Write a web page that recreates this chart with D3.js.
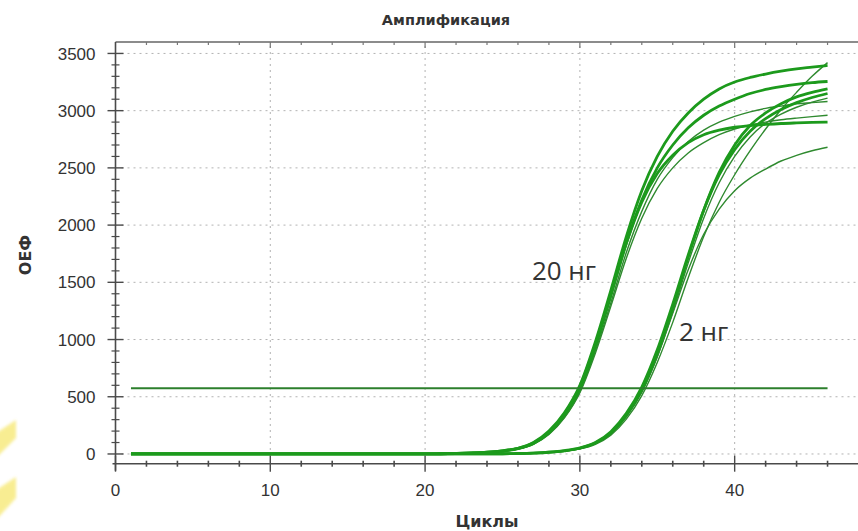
<!DOCTYPE html>
<html>
<head>
<meta charset="utf-8">
<script src="https://cdn.jsdelivr.net/npm/d3@7"></script>
<style>
  html, body { margin: 0; padding: 0; background: #fff; }
  svg { display: block; }
</style>
</head>
<body>
<svg id="chart" width="858" height="531"></svg>
<script>
// Amplification curves (relative fluorescence units vs. PCR cycle)
const cycles = [1,2,3,4,5,6,7,8,9,10,11,12,13,14,15,16,17,18,19,20,21,22,23,24,25,26,27,28,29,30,31,32,33,34,35,36,37,38,39,40,41,42,43,44,45,46];

// 20 ng template
const ng20_a = [0,0,0,0,0,0,0,0,0,0,0,0,0,0,0,0,0,0,0,0, 2,5,9,16,28,50,100,200,360,600, 980,1430,1900,2300,2600,2820,2980,3100,3190,3250, 3290,3320,3345,3365,3380,3395];
const ng20_b = [0,0,0,0,0,0,0,0,0,0,0,0,0,0,0,0,0,0,0,0, 2,4,8,14,25,46,92,185,340,570, 940,1380,1840,2220,2500,2700,2850,2960,3040,3100, 3150,3185,3210,3230,3245,3255];
const ng20_c = [0,0,0,0,0,0,0,0,0,0,0,0,0,0,0,0,0,0,0,0, 2,4,7,13,24,44,88,175,320,545, 900,1320,1760,2120,2400,2590,2730,2830,2900,2950, 2990,3020,3040,3060,3070,3080];
const ng20_d = [0,0,0,0,0,0,0,0,0,0,0,0,0,0,0,0,0,0,0,0, 2,4,7,13,23,42,85,170,315,535, 880,1290,1710,2060,2320,2500,2630,2720,2790,2840, 2875,2900,2920,2935,2948,2960];
const ng20_e = [0,0,0,0,0,0,0,0,0,0,0,0,0,0,0,0,0,0,0,0, 2,5,9,15,27,48,95,190,350,590, 960,1400,1840,2200,2450,2610,2720,2790,2830,2855, 2870,2880,2888,2893,2897,2900];

// 2 ng template
const ng2_a = [0,0,0,0,0,0,0,0,0,0,0,0,0,0,0,0,0,0,0,0,0,0,0,0, 2,4,8,15,28,50, 95,185,340,560,880,1280,1720,2130,2460,2700, 2870,2980,3060,3120,3160,3190];
const ng2_b = [0,0,0,0,0,0,0,0,0,0,0,0,0,0,0,0,0,0,0,0,0,0,0,0, 2,4,8,16,30,54, 100,195,355,585,910,1310,1740,2130,2440,2660, 2820,2930,3010,3070,3115,3150];
const ng2_c = [0,0,0,0,0,0,0,0,0,0,0,0,0,0,0,0,0,0,0,0,0,0,0,0, 2,3,7,14,26,47, 90,175,325,540,850,1240,1670,2060,2370,2600, 2770,2890,2970,3030,3075,3110];
const ng2_d = [0,0,0,0,0,0,0,0,0,0,0,0,0,0,0,0,0,0,0,0,0,0,0,0, 1,3,6,12,24,44, 85,165,305,510,800,1150,1540,1900,2200,2440, 2650,2840,3010,3160,3300,3420];
const ng2_e = [0,0,0,0,0,0,0,0,0,0,0,0,0,0,0,0,0,0,0,0,0,0,0,0, 2,4,8,15,28,50, 93,180,330,545,850,1230,1610,1920,2140,2300, 2410,2490,2560,2610,2650,2680];

const threshold = 575;

const yMajor = [0,500,1000,1500,2000,2500,3000,3500];
const yTickLabels = ["0","500","1000","1500","2000","2500","3000","3500"];
const xMajor = [0,10,20,30,40];
const xTickLabels = ["0","10","20","30","40"];
const xGrid = [10,20,30,40];

const title = "Амплификация";
const xTitle = "Циклы";
const yTitle = "ОЕФ";
const groupLabels = [
  { text: "20 нг", cycle: 26.9, value: 1520 },
  { text: "2 нг", cycle: 36.4, value: 985 }
];

// series list for drawing: thick traces are the heavier well lines
const series = [
  { values: ng20_a, thick: true },
  { values: ng20_b, thick: true },
  { values: ng20_c, thick: false },
  { values: ng20_d, thick: false },
  { values: ng20_e, thick: true },
  { values: ng2_a, thick: true },
  { values: ng2_b, thick: true },
  { values: ng2_c, thick: false },
  { values: ng2_d, thick: false },
  { values: ng2_e, thick: false }
];

const svg = d3.select("#chart");
const W = 858, H = 531;
const plotLeft = 115.5, plotRight = 858.5, plotTop = 42, plotBottom = 463.7;

const x = d3.scaleLinear().domain([0, 48]).range([plotLeft, plotRight]);
const y = d3.scaleLinear().domain([-85, 3600]).range([plotBottom, plotTop]);

// soft corner decoration
const defs = svg.append("defs");
defs.append("filter").attr("id", "soft").append("feGaussianBlur").attr("stdDeviation", 1.5);
const deco = svg.append("g").attr("opacity", 0.6).attr("filter", "url(#soft)");
deco.append("polygon").attr("points", "-4,433 16,420 16,438 -4,458").attr("fill", "#f4e24c");
deco.append("polygon").attr("points", "-4,490 16,477 16,498 -4,520").attr("fill", "#f4e24c");

// grid
const grid = svg.append("g").attr("stroke", "#b2b2b2").attr("stroke-width", 1).attr("stroke-dasharray", "2,4");
grid.selectAll("line.h").data(yMajor).join("line")
  .attr("x1", x(0) + 6).attr("x2", W)
  .attr("y1", d => y(d)).attr("y2", d => y(d));
grid.selectAll("line.v").data(xGrid).join("line")
  .attr("x1", d => x(d)).attr("x2", d => x(d))
  .attr("y1", plotTop + 4).attr("y2", plotBottom);

// amplification traces
const line = d3.line()
  .x((d, i) => x(cycles[i]))
  .y(d => y(d))
  .curve(d3.curveMonotoneX);

const traces = svg.append("g").attr("fill", "none").attr("stroke-linejoin", "round");
traces.selectAll("path.thin").data(series.filter(s => !s.thick)).join("path")
  .attr("d", s => line(s.values))
  .attr("stroke", "#2f8a2f")
  .attr("stroke-width", 1.4);
traces.selectAll("path.thick").data(series.filter(s => s.thick)).join("path")
  .attr("d", s => line(s.values))
  .attr("stroke", "#1c9a1c")
  .attr("stroke-width", 2.8);

// threshold
svg.append("line")
  .attr("x1", x(cycles[0])).attr("x2", x(cycles[cycles.length - 1]))
  .attr("y1", y(threshold)).attr("y2", y(threshold))
  .attr("stroke", "#2c7f2c").attr("stroke-width", 2);

// axes
const axisColor = "#4a4a4a";
const ax = svg.append("g").attr("stroke", axisColor);
// top frame
ax.append("line").attr("x1", plotLeft).attr("x2", W).attr("y1", plotTop).attr("y2", plotTop).attr("stroke-width", 1.6).attr("stroke", "#666");
ax.selectAll("line.tt").data(d3.range(2, 48, 2)).join("line")
  .attr("x1", d => x(d)).attr("x2", d => x(d))
  .attr("y1", plotTop).attr("y2", d => plotTop + (d % 10 === 0 ? 6 : 3))
  .attr("stroke-width", 1.2).attr("stroke", "#777");
// y axis
ax.append("line").attr("x1", plotLeft).attr("x2", plotLeft).attr("y1", plotTop).attr("y2", plotBottom + 7).attr("stroke-width", 1.6);
ax.selectAll("line.ymin").data(d3.range(0, 3600, 100).filter(v => v % 500 !== 0)).join("line")
  .attr("x1", plotLeft - 4).attr("x2", plotLeft + 4)
  .attr("y1", d => y(d)).attr("y2", d => y(d)).attr("stroke-width", 1.2);
ax.selectAll("line.ymaj").data(yMajor).join("line")
  .attr("x1", plotLeft - 8).attr("x2", plotLeft + 8)
  .attr("y1", d => y(d)).attr("y2", d => y(d)).attr("stroke-width", 1.4);
// x axis
ax.append("line").attr("x1", plotLeft - 3).attr("x2", W).attr("y1", plotBottom).attr("y2", plotBottom).attr("stroke-width", 1.6);
ax.selectAll("line.xmin").data(d3.range(2, 48, 2).filter(v => v % 10 !== 0)).join("line")
  .attr("x1", d => x(d)).attr("x2", d => x(d))
  .attr("y1", plotBottom - 3).attr("y2", plotBottom + 3).attr("stroke-width", 1.6);
ax.selectAll("line.xmaj").data(xMajor).join("line")
  .attr("x1", d => x(d)).attr("x2", d => x(d))
  .attr("y1", plotBottom - 8).attr("y2", plotBottom + 8).attr("stroke-width", 1.4);

// tick labels
const tickFont = "'Liberation Sans', Arial, sans-serif";
svg.append("g").selectAll("text").data(yMajor).join("text")
  .attr("x", plotLeft - 20).attr("y", d => y(d))
  .attr("dy", "0.36em").attr("text-anchor", "end")
  .attr("font-family", tickFont).attr("font-size", 17).attr("fill", "#333")
  .text((d, i) => yTickLabels[i]);
svg.append("g").selectAll("text").data(xMajor).join("text")
  .attr("x", d => x(d)).attr("y", plotBottom + 32)
  .attr("text-anchor", "middle")
  .attr("font-family", tickFont).attr("font-size", 17).attr("fill", "#333")
  .text((d, i) => xTickLabels[i]);

// titles
svg.append("text").attr("x", 446).attr("y", 25).attr("text-anchor", "middle")
  .attr("font-family", "'DejaVu Sans', sans-serif").attr("font-weight", "bold").attr("font-size", 14.5)
  .attr("fill", "#333").text(title);
svg.append("text").attr("x", (plotLeft + plotRight) / 2).attr("y", 527).attr("text-anchor", "middle")
  .attr("font-family", "'DejaVu Sans', sans-serif").attr("font-weight", "bold").attr("font-size", 16)
  .attr("fill", "#333").text(xTitle);
svg.append("text").attr("transform", "translate(31,255) rotate(-90)").attr("text-anchor", "middle")
  .attr("font-family", "'DejaVu Sans', sans-serif").attr("font-weight", "bold").attr("font-size", 16)
  .attr("fill", "#333").text(yTitle);

// group annotations
svg.append("g").selectAll("text").data(groupLabels).join("text")
  .attr("x", d => x(d.cycle)).attr("y", d => y(d.value))
  .attr("font-family", "'Open Sans', sans-serif").attr("font-size", 26).attr("fill", "#333")
  .text(d => d.text);
</script>
</body>
</html>
